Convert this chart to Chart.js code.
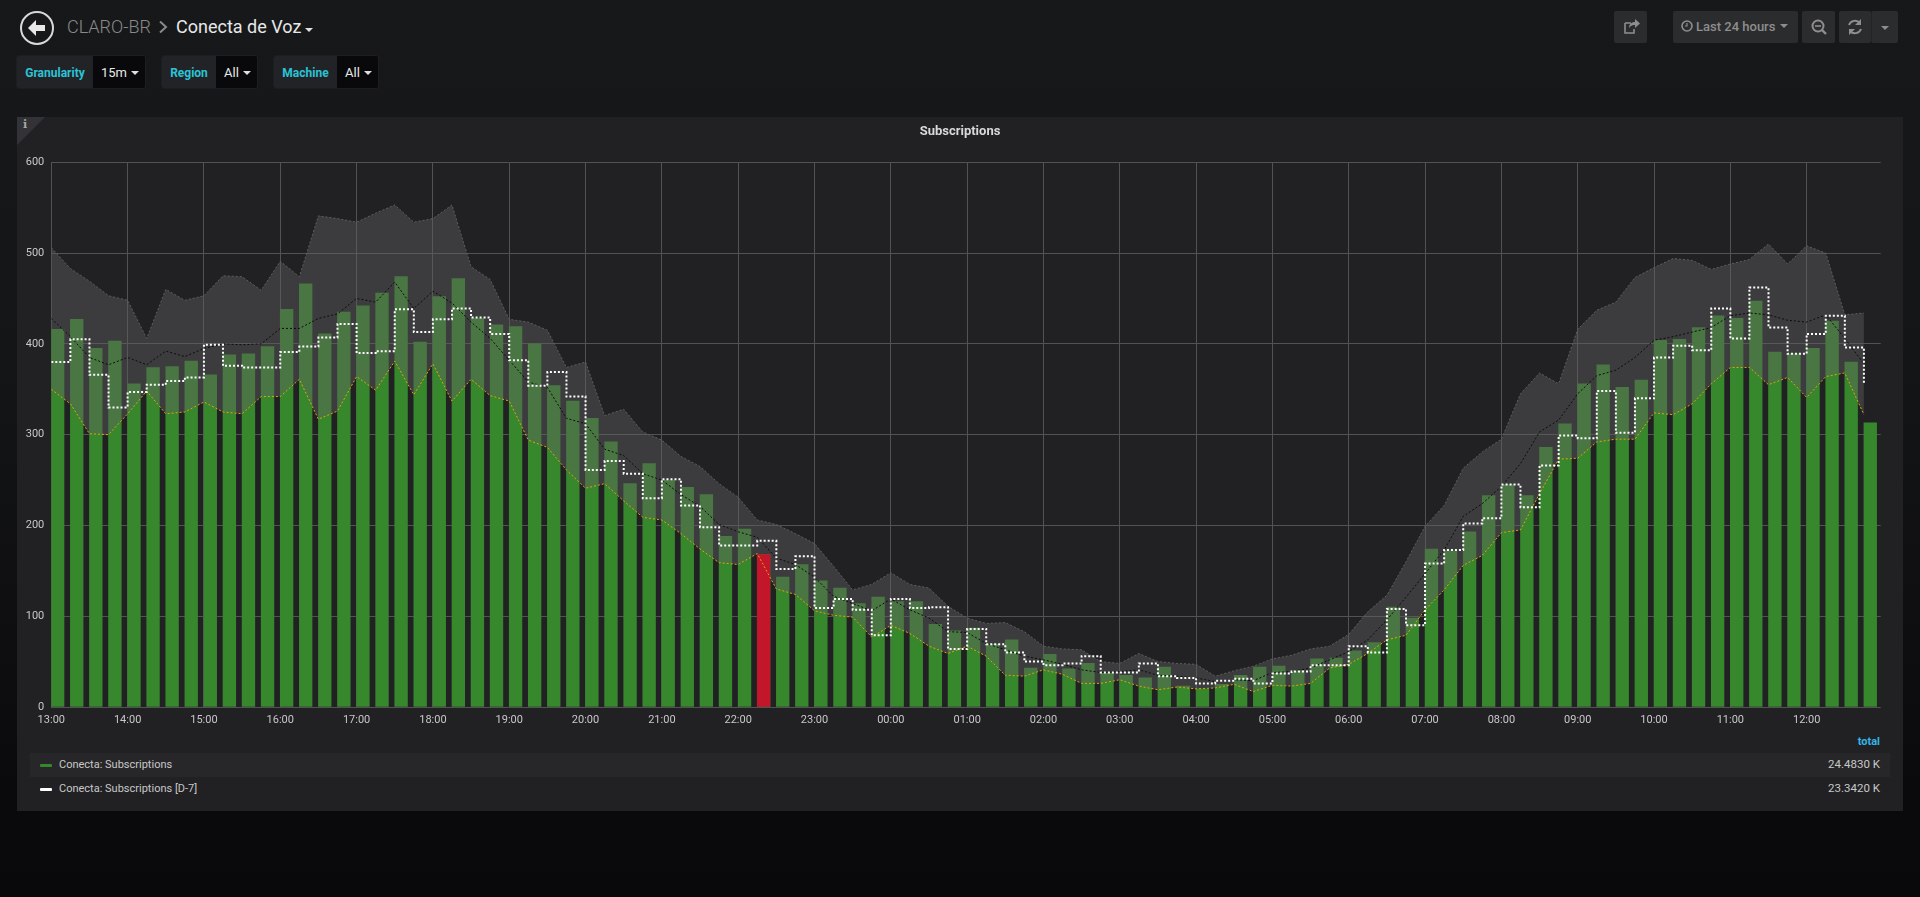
<!DOCTYPE html>
<html>
<head>
<meta charset="utf-8">
<title>Conecta de Voz</title>
<script src="https://cdn.jsdelivr.net/npm/chart.js@4"></script>
<style>
    html, body { margin: 0; padding: 0; width: 1920px; height: 897px; overflow: hidden; }
    body { background: linear-gradient(#17181a 0, #141517 40%, #0a0a0c 88%, #09090b 100%); font-family: Roboto, sans-serif; color: #d8d9da; position: relative; }
    .abs { position: absolute; white-space: nowrap; }
    .crumb { top: 16px; font-size: 18px; line-height: 22px; }
    .var { top: 55px; height: 34px; border-radius: 3px; display: flex; font-size: 12px; line-height: 34px; overflow: hidden; border: 1px solid #1d1e21; box-sizing: border-box; }
    .var .lbl { background: #212327; color: #2bc3d6; font-weight: 700; box-sizing: border-box; text-align: center; }
    .var .val { background: #09090b; color: #e8e8e8; font-size: 13px; flex: 1; padding-left: 8px; position: relative; }
    .caret { display: inline-block; width: 0; height: 0; border-left: 4px solid transparent; border-right: 4px solid transparent; border-top: 4px solid #e0e0e0; vertical-align: middle; margin-left: 4px; margin-top: -2px; }
    .btn { top: 11px; height: 32px; background: #2b2c2e; border-radius: 2px; color: #8e8e8e; font-size: 13px; font-weight: 500; line-height: 32px; text-align: center; }
    .btn svg { position: absolute; left: 0; top: 0; }
    #panel { left: 17px; top: 117px; width: 1886px; height: 694px; background: #212124; }
    #corner { left: 17px; top: 117px; width: 0; height: 0; border-top: 28px solid #323237; border-right: 28px solid transparent; }
    #info { left: 23px; top: 118px; font: 700 11px "DejaVu Serif", serif; color: #a8a8a8; }
    #chart-box { left: 17px; top: 117px; width: 1886px; height: 615px; }
    .row { left: 30px; width: 1860px; height: 24px; line-height: 23px; font-size: 11px; color: #c8c8c8; }
    .row .name { position: absolute; left: 29px; }
    .row .num { position: absolute; right: 10px; font-size: 11.5px; }
    .row .key { position: absolute; left: 10px; top: 11px; width: 12px; height: 3px; border-radius: 1px; }
</style>
</head>
<body>

<svg class="abs" style="left:18px;top:9px" width="38" height="38">
    <circle cx="19" cy="19" r="16" fill="none" stroke="#d8d9da" stroke-width="2"/>
    <path d="M10 19 L18 11 L18 16 L27 16 L27 22 L18 22 L18 27 Z" fill="#e8e8e8"/>
</svg>
<div class="abs crumb" style="left:67px;color:#8a8a8a;font-weight:300">CLARO-BR</div>
<svg class="abs" style="left:158px;top:20px" width="12" height="14"><path d="M2 1.5 L8 7 L2 12.5" fill="none" stroke="#8a8a8a" stroke-width="2"/></svg>
<div class="abs crumb" style="left:176px;color:#e8e8e8">Conecta de Voz</div>
<div class="abs caret" style="left:305px;top:28px;margin:0"></div>

<div class="abs var" style="left:16px;width:130px"><div class="lbl" style="width:76px">Granularity</div><div class="val">15m<span class="caret"></span></div></div>
<div class="abs var" style="left:161px;width:97px"><div class="lbl" style="width:54px">Region</div><div class="val">All<span class="caret"></span></div></div>
<div class="abs var" style="left:273px;width:106px"><div class="lbl" style="width:63px">Machine</div><div class="val">All<span class="caret"></span></div></div>

<div class="abs btn" style="left:1614px;width:33px">
    <svg width="33" height="32"><path d="M11 12 H17 M11 12 V22 H20 V18" fill="none" stroke="#8e8e8e" stroke-width="1.6"/><path d="M15 17 C15 12 19 11 21 11 V8 L26 12.5 L21 17 V14 C19 14 17 14 15 17 Z" fill="#8e8e8e"/></svg>
</div>
<div class="abs btn" style="left:1673px;width:125px">
    <svg width="24" height="32"><circle cx="14" cy="15" r="5" fill="none" stroke="#8e8e8e" stroke-width="1.6"/><path d="M14 12 V15 H12" fill="none" stroke="#8e8e8e" stroke-width="1.2"/></svg>
    <span style="position:absolute;left:23px;top:0">Last 24 hours</span>
    <span class="caret" style="position:absolute;left:107px;top:13px;margin:0;border-top-color:#8e8e8e"></span>
</div>
<div class="abs btn" style="left:1802px;width:33px">
    <svg width="33" height="32"><circle cx="16" cy="15" r="5.5" fill="none" stroke="#8e8e8e" stroke-width="2"/><path d="M13 15 H19" stroke="#8e8e8e" stroke-width="1.6"/><path d="M20 19 L24 23" stroke="#8e8e8e" stroke-width="2.4"/></svg>
</div>
<div class="abs btn" style="left:1839px;width:32px">
    <svg width="32" height="32"><path d="M10 14 A6.5 6.5 0 0 1 21 12 M22 18 A6.5 6.5 0 0 1 11 20" fill="none" stroke="#8e8e8e" stroke-width="2"/><path d="M22 8 V14 H16 Z M10 24 V18 H16 Z" fill="#8e8e8e"/></svg>
</div>
<div class="abs btn" style="left:1871px;width:27px;border-left:1px solid #232426;box-sizing:border-box">
    <span class="caret" style="position:absolute;left:9px;top:15px;margin:0;border-top-color:#8e8e8e"></span>
</div>

<div class="abs" id="panel"></div>
<div class="abs" id="corner"></div>
<div class="abs" id="info">i</div>
<div class="abs" id="chart-box"><canvas id="chart" width="1886" height="615"></canvas></div>

<div class="abs" style="right:40px;top:735px;font-size:11px;font-weight:700;color:#33b5e5">total</div>
<div class="abs row" style="top:753px;background:#272729">
    <span class="key" style="background:#37872d"></span><span class="name" id="name-now"></span><span class="num" id="total-now"></span>
</div>
<div class="abs row" style="top:777px">
    <span class="key" style="background:#ffffff"></span><span class="name" id="name-prev"></span><span class="num" id="total-prev"></span>
</div>

<script>
//======================================================================================================================
// Data, one value per 15 minutes from 13:00
//======================================================================================================================

    var hourLabels = ['13:00', '14:00', '15:00', '16:00', '17:00', '18:00', '19:00', '20:00', '21:00', '22:00', '23:00', '00:00',
        '01:00', '02:00', '03:00', '04:00', '05:00', '06:00', '07:00', '08:00', '09:00', '10:00', '11:00', '12:00'];
    var yTicks = [0, 100, 200, 300, 400, 500, 600];

    var subscriptions = [416, 427, 395, 403, 356, 374, 375, 381, 366, 388,
        389, 397, 438, 466, 411, 435, 442, 456, 474, 402,
        452, 472, 428, 421, 419, 400, 354, 337, 318, 292,
        246, 268, 250, 242, 234, 188, 196, 168, 143, 157,
        139, 131, 114, 121, 116, 116, 91, 84, 87, 69,
        74, 43, 58, 42, 48, 37, 35, 32, 44, 23,
        20, 25, 35, 44, 45, 40, 53, 54, 62, 71,
        110, 98, 174, 172, 193, 233, 245, 233, 286, 312,
        356, 377, 352, 360, 404, 405, 418, 431, 428, 447,
        391, 389, 395, 425, 380, 313];

    var subscriptionsD7 = [380, 405, 366, 330, 347, 355, 359, 363, 399, 376,
        374, 374, 391, 397, 407, 422, 390, 392, 438, 413,
        427, 439, 429, 411, 382, 354, 369, 342, 261, 271,
        257, 230, 251, 222, 198, 178, 178, 183, 152, 166,
        109, 119, 107, 79, 119, 109, 110, 64, 86, 69,
        60, 50, 46, 48, 56, 38, 38, 48, 34, 32,
        26, 29, 31, 26, 37, 39, 46, 46, 67, 60,
        108, 90, 158, 173, 202, 208, 245, 220, 266, 299,
        296, 348, 302, 340, 385, 398, 393, 439, 406, 462,
        418, 389, 411, 431, 396, 356];

    var bandUpper = [506, 483, 469, 453, 448, 406, 460, 448, 453, 475,
        474, 459, 491, 474, 541, 538, 534, 544, 553, 534,
        538, 553, 485, 471, 427, 424, 415, 374, 380, 321,
        328, 303, 294, 276, 265, 246, 231, 206, 201, 191,
        180, 155, 129, 135, 148, 135, 131, 111, 98, 92,
        93, 83, 67, 64, 63, 50, 48, 59, 50, 48,
        47, 34, 40, 45, 53, 57, 64, 67, 80, 105,
        123, 160, 199, 222, 263, 281, 295, 345, 368, 356,
        416, 437, 446, 473, 484, 494, 492, 482, 488, 493,
        510, 488, 508, 500, 432, 434];

    var bandLower = [350, 334, 301, 300, 323, 348, 323, 325, 336, 325,
        323, 342, 342, 361, 317, 326, 364, 349, 381, 344,
        378, 337, 361, 343, 337, 294, 286, 261, 241, 246,
        227, 209, 206, 191, 174, 159, 157, 169, 130, 124,
        106, 101, 99, 77, 90, 81, 67, 59, 67, 56,
        35, 34, 41, 36, 26, 26, 30, 23, 19, 22,
        20, 21, 25, 17, 24, 23, 26, 43, 47, 59,
        74, 79, 107, 129, 156, 167, 192, 195, 235, 273,
        274, 292, 295, 295, 324, 322, 334, 356, 374, 374,
        355, 363, 341, 364, 368, 322];

    var bandMean = [428, 408, 385, 377, 385, 377, 392, 386, 395, 400,
        399, 400, 417, 417, 428, 433, 450, 446, 468, 439,
        458, 445, 424, 406, 382, 358, 352, 318, 312, 284,
        277, 257, 250, 234, 221, 201, 193, 187, 164, 157,
        143, 122, 114, 106, 119, 107, 98, 83, 82, 70,
        63, 56, 52, 47, 41, 38, 39, 41, 35, 34,
        32, 28, 30, 29, 38, 39, 43, 52, 61, 74,
        96, 121, 147, 173, 210, 224, 243, 268, 303, 316,
        345, 365, 371, 385, 404, 408, 413, 418, 431, 434,
        432, 426, 424, 432, 406, 378];

    var alertIndex = 37;   // 22:15, the bar below the band
    var seriesNames = ['Conecta: Subscriptions', 'Conecta: Subscriptions [D-7]'];
    var seriesTotals = ['24.4830 K', '23.3420 K'];

//======================================================================================================================
// Chart
//======================================================================================================================

    document.getElementById('name-now').textContent = seriesNames[0];
    document.getElementById('name-prev').textContent = seriesNames[1];
    document.getElementById('total-now').textContent = seriesTotals[0];
    document.getElementById('total-prev').textContent = seriesTotals[1];

    var barShift = 1 / 3;   // bars start at their time instead of being centred on it

    function points(values, shift) {
        return values.map(function(v, i) {
            return {x: i + (shift || 0), y: v};
        });
    }

    // The title sits over the whole panel, not only over the padded part
    var centerTitle = {
        id: 'centerTitle',
        afterLayout: function(chart) {
            chart.titleBlock.left = 0;
            chart.titleBlock.right = chart.width;
        }
    };

    Chart.defaults.font.family = 'Roboto';
    Chart.defaults.font.size = 11;
    Chart.defaults.color = '#c8c8c8';

    new Chart(document.getElementById('chart'), {
        plugins: [centerTitle],
        data: {
            datasets: [{
                type: 'bar',
                label: seriesNames[0],
                data: points(subscriptions, barShift),
                order: 5,
                grouped: false,
                barThickness: 12.7,
                backgroundColor: '#37872d'
            }, {
                type: 'line',
                label: 'upper',
                data: points(bandUpper),
                order: 4,
                fill: {target: 3},
                backgroundColor: 'rgba(98, 98, 98, 0.43)',
                borderColor: '#5e5e60',
                borderWidth: 1,
                borderDash: [2, 2],
                pointRadius: 0,
                tension: 0
            }, {
                // the alert bar stays clean, on top of the band
                type: 'bar',
                label: 'alert',
                data: [{x: alertIndex + barShift, y: subscriptions[alertIndex]}],
                order: 3.5,
                grouped: false,
                barThickness: 12.7,
                backgroundColor: '#c4162a'
            }, {
                type: 'line',
                label: 'lower',
                data: points(bandLower),
                order: 3,
                fill: false,
                borderColor: '#e0a60c',
                borderWidth: 1,
                borderDash: [2, 2],
                pointRadius: 0,
                tension: 0
            }, {
                type: 'line',
                label: 'mean',
                data: points(bandMean),
                order: 2,
                fill: false,
                borderColor: '#0c0c0c',
                borderWidth: 1,
                borderDash: [2, 2],
                pointRadius: 0,
                tension: 0
            }, {
                type: 'line',
                label: seriesNames[1],
                data: points(subscriptionsD7),
                order: 1,
                fill: false,
                stepped: 'before',
                borderColor: '#ffffff',
                borderWidth: 2,
                borderDash: [2, 2],
                pointRadius: 0
            }]
        },
        options: {
            responsive: false,
            animation: false,
            layout: {
                padding: {left: 0, right: 22.3, top: 0, bottom: 0}
            },
            plugins: {
                legend: {
                    display: false
                },
                tooltip: {
                    enabled: false
                },
                title: {
                    display: true,
                    text: 'Subscriptions',
                    color: '#d8d9da',
                    font: {size: 13, weight: 'bold', lineHeight: 1.1},
                    padding: {top: 8, bottom: 23}
                }
            },
            scales: {
                x: {
                    type: 'linear',
                    offset: false,
                    min: 0,
                    max: 95.88,
                    afterFit: function(scale) {
                        scale.height = 25;
                    },
                    afterBuildTicks: function(scale) {
                        scale.ticks = scale.ticks.filter(function(t) {
                            return t.value % 4 === 0;
                        });
                    },
                    grid: {color: '#525254', drawTicks: false, offset: false},
                    border: {display: false},
                    ticks: {
                        stepSize: 4,
                        autoSkip: false,
                        maxRotation: 0,
                        padding: 7,
                        callback: function(value) {
                            return hourLabels[value / 4];
                        }
                    }
                },
                y: {
                    min: 0,
                    max: 600,
                    afterFit: function(scale) {
                        scale.width = 34.3;
                    },
                    afterBuildTicks: function(scale) {
                        scale.ticks = yTicks.map(function(v) {
                            return {value: v};
                        });
                    },
                    grid: {color: '#525254', drawTicks: false},
                    border: {display: false},
                    ticks: {padding: 7}
                }
            }
        }
    });
</script>
</body>
</html>
